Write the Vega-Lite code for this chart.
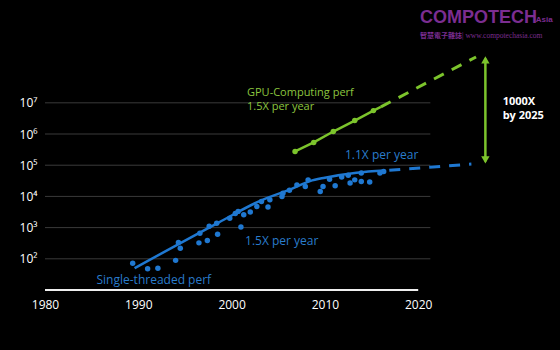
{
  "$schema": "https://vega.github.io/schema/vega-lite/v6.json",
  "width": 466.5,
  "height": 237.1,
  "autosize": {"type": "none"},
  "padding": {"left": 45, "top": 52.9, "right": 48.5, "bottom": 60},
  "background": "#000000",
  "config": {"view": {"stroke": null}, "font": "Open Sans"},
  "datasets": {
    "grid": [{"value": 100}, {"value": 1000}, {"value": 10000}, {"value": 100000}, {"value": 1000000}, {"value": 10000000}],
    "blue": [
      {"year": 1989.4, "value": 72.4}, {"year": 1991.0, "value": 47.9}, {"year": 1992.1, "value": 50.1},
      {"year": 1994.0, "value": 89.1}, {"year": 1994.3, "value": 331}, {"year": 1994.5, "value": 219},
      {"year": 1996.5, "value": 324}, {"year": 1997.4, "value": 389}, {"year": 1997.6, "value": 1096},
      {"year": 1998.5, "value": 617}, {"year": 1996.6, "value": 661}, {"year": 1998.4, "value": 1380},
      {"year": 2001.0, "value": 1047}, {"year": 2000.7, "value": 3311}, {"year": 2001.3, "value": 2570},
      {"year": 2002.0, "value": 3162}, {"year": 2002.7, "value": 4786}, {"year": 2003.2, "value": 6918},
      {"year": 2003.9, "value": 4571}, {"year": 2004.1, "value": 7762}, {"year": 2005.4, "value": 10000},
      {"year": 2005.5, "value": 12589}, {"year": 2007.0, "value": 23442}, {"year": 2008.2, "value": 33884},
      {"year": 2007.9, "value": 20893}, {"year": 2009.8, "value": 20893}, {"year": 2009.5, "value": 14454},
      {"year": 2011.1, "value": 21878}, {"year": 2012.7, "value": 26915}, {"year": 2013.2, "value": 33884},
      {"year": 2013.9, "value": 30200}, {"year": 2014.8, "value": 28840}, {"year": 2013.9, "value": 56234},
      {"year": 2015.9, "value": 56234}, {"year": 2016.3, "value": 63096}, {"year": 2010.5, "value": 35481},
      {"year": 2011.8, "value": 41687}, {"year": 2012.5, "value": 47863}, {"year": 2006.2, "value": 15849},
      {"year": 1999.8, "value": 1995}, {"year": 2000.4, "value": 2818}
    ],
    "blueLine": [
      {"year": 1989.6, "value": 50.1}, {"year": 1998.6, "value": 1445}, {"year": 2003.0, "value": 7079},
      {"year": 2006.5, "value": 17783}, {"year": 2008.4, "value": 30903}, {"year": 2010.0, "value": 39811},
      {"year": 2013.4, "value": 57544}, {"year": 2016.4, "value": 67608}
    ],
    "blueDash": [{"year": 2016.9, "value": 69183}, {"year": 2025.7, "value": 108393}],
    "green": [
      {"year": 2006.8, "value": 275423}, {"year": 2008.8, "value": 537032}, {"year": 2010.9, "value": 1202264},
      {"year": 2013.2, "value": 2691535}, {"year": 2015.2, "value": 5623413}
    ],
    "greenLine": [
      {"year": 2006.8, "value": 275423}, {"year": 2008.8, "value": 537032}, {"year": 2010.9, "value": 1202264},
      {"year": 2013.2, "value": 2691535}, {"year": 2015.2, "value": 5623413}, {"year": 2016.0, "value": 7413102}
    ],
    "greenDash": [{"year": 2016.0, "value": 7413102}, {"year": 2026.2, "value": 295120923}],
    "greenText": [
      {"label": "GPU-Computing perf\n1.5X per year", "year": 2001.65, "value": 16749896}
    ],
    "blueText": [
      {"label": "1.1X per year", "year": 2012.15, "value": 156675},
      {"label": "1.5X per year", "year": 2001.44, "value": 282},
      {"label": "Single-threaded perf", "year": 1985.52, "value": 15.5}
    ],
    "whiteText": [
      {"label": "1000X\nby 2025", "year": 2029.05, "value": 8709636}
    ]
  },
  "layer": [
    {"data": {"name": "grid"}, "mark": {"type": "rule", "color": "#3a3a3a", "strokeWidth": 1},
     "encoding": {
       "x": {"datum": 1980, "type": "quantitative",
             "scale": {"domain": [1980, 2030], "nice": false, "zero": false},
             "axis": {"values": [1980, 1990, 2000, 2010, 2020], "format": "d", "title": null, "domain": false, "ticks": false, "grid": false,
                      "labelColor": "#ffffff", "labelFontSize": 12, "labelFont": "Open Sans", "labelPadding": 9, "labelFlush": false}},
       "x2": {"datum": 2021.3},
       "y": {"field": "value", "type": "quantitative",
             "scale": {"type": "log", "domain": [10, 398107170.55], "nice": false},
             "axis": {"values": [100, 1000, 10000, 100000, 1000000, 10000000], "title": null, "domain": false, "ticks": false, "grid": false,
                      "labelColor": "#ffffff", "labelFontSize": 12, "labelFont": "Open Sans", "labelPadding": 8,
                      "labelExpr": "'10' + ['⁰','¹','²','³','⁴','⁵','⁶','⁷','⁸'][round(log(datum.value)/LN10)]"}}
     }},
    {"data": {"values": [{}]}, "mark": {"type": "rule", "color": "#eeeeee", "strokeWidth": 2},
     "encoding": {"x": {"datum": 1980, "type": "quantitative"}, "x2": {"datum": 2020}, "y": {"datum": 10, "type": "quantitative"}}},
    {"data": {"values": [{}]}, "mark": {"type": "rule", "color": "#7cc42c", "strokeWidth": 2.5},
     "encoding": {"x": {"datum": 2027.2, "type": "quantitative"}, "y": {"datum": 131826, "type": "quantitative"}, "y2": {"datum": 263026799}}},
    {"data": {"values": [{}]}, "mark": {"type": "point", "filled": true, "shape": "triangle-up", "color": "#7cc42c", "size": 70, "opacity": 1},
     "encoding": {"x": {"datum": 2027.2, "type": "quantitative"}, "y": {"datum": 240000000, "type": "quantitative"}}},
    {"data": {"values": [{}]}, "mark": {"type": "point", "filled": true, "shape": "triangle-down", "color": "#7cc42c", "size": 70, "opacity": 1},
     "encoding": {"x": {"datum": 2027.2, "type": "quantitative"}, "y": {"datum": 147911, "type": "quantitative"}}},
    {
      "encoding": {
        "x": {"field": "year", "type": "quantitative"},
        "y": {"field": "value", "type": "quantitative"}
      },
      "layer": [
        {"data": {"name": "blueDash"}, "mark": {"type": "line", "color": "#1f78d1", "strokeWidth": 3, "strokeDash": [11, 9]}},
        {"data": {"name": "blueLine"}, "mark": {"type": "line", "color": "#1f78d1", "strokeWidth": 2.5, "interpolate": "monotone"}},
        {"data": {"name": "blue"}, "mark": {"type": "point", "filled": true, "color": "#1f78d1", "size": 30, "opacity": 1}},
        {"data": {"name": "greenDash"}, "mark": {"type": "line", "color": "#7cc42c", "strokeWidth": 3, "strokeDash": [11, 9]}},
        {"data": {"name": "greenLine"}, "mark": {"type": "line", "color": "#7cc42c", "strokeWidth": 2.5}},
        {"data": {"name": "green"}, "mark": {"type": "point", "filled": true, "color": "#7cc42c", "size": 30, "opacity": 1}},
        {"data": {"name": "greenText"}, "mark": {"type": "text", "align": "left", "baseline": "alphabetic", "fontSize": 11, "font": "Open Sans", "color": "#8cc63f", "lineBreak": "\n", "lineHeight": 14},
         "encoding": {"text": {"field": "label"}}},
        {"data": {"name": "blueText"}, "mark": {"type": "text", "align": "left", "baseline": "alphabetic", "fontSize": 12, "font": "Open Sans", "color": "#2a7ccc"},
         "encoding": {"text": {"field": "label"}}},
        {"data": {"name": "whiteText"}, "mark": {"type": "text", "align": "left", "baseline": "alphabetic", "fontSize": 11, "font": "Open Sans", "fontWeight": "bold", "color": "#ffffff", "lineBreak": "\n", "lineHeight": 14},
         "encoding": {"text": {"field": "label"}}},
        {"data": {"values": [{"label": "COMPOTECH", "year": 2020.19, "value": 3660000000}]},
         "mark": {"type": "text", "align": "left", "baseline": "alphabetic", "fontSize": 18, "font": "Liberation Sans", "fontWeight": "bold", "color": "#7b2d91"},
         "encoding": {"text": {"field": "label"}}},
        {"data": {"values": [{"label": "Asia", "year": 2032.6, "value": 3940000000}]},
         "mark": {"type": "text", "align": "left", "baseline": "alphabetic", "fontSize": 8, "font": "Liberation Sans", "fontWeight": "bold", "color": "#7b2d91"},
         "encoding": {"text": {"field": "label"}}},
        {"data": {"values": [{"label": "智慧電子雜誌", "year": 2020.19, "value": 1210000000}]},
         "mark": {"type": "text", "align": "left", "baseline": "alphabetic", "fontSize": 7, "font": "Noto Sans CJK TC", "fontWeight": "bold", "color": "#7b2d91"},
         "encoding": {"text": {"field": "label"}}},
        {"data": {"values": [{"label": "| www.compotechasia.com", "year": 2024.7, "value": 1210000000}]},
         "mark": {"type": "text", "align": "left", "baseline": "alphabetic", "fontSize": 7.5, "font": "Liberation Serif", "color": "#7b2d91"},
         "encoding": {"text": {"field": "label"}}}
      ]
    }
  ]
}
